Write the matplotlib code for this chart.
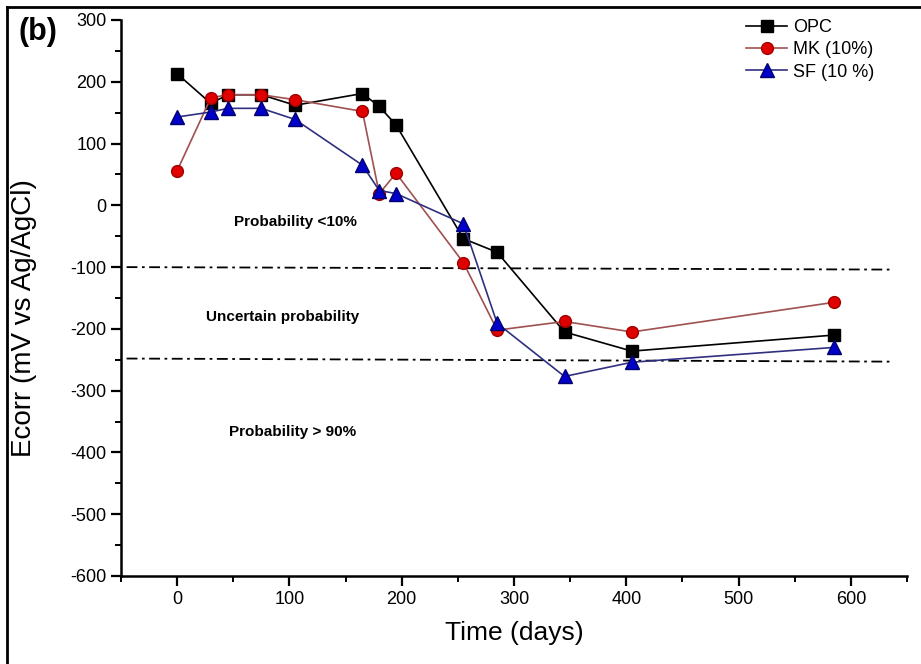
import numpy as np
import matplotlib
matplotlib.use("Agg")
import matplotlib.pyplot as plt
from matplotlib.lines import Line2D
from matplotlib.ticker import MultipleLocator

plt.rcParams["font.family"] = ["Liberation Sans", "DejaVu Sans"]
plt.rcParams["axes.unicode_minus"] = False

# half-cell potential readings (mV vs Ag/AgCl)
days = [0, 30, 45, 75, 105, 165, 180, 195, 255, 285, 345, 405, 585]
opc = [213, 165, 179, 179, 162, 181, 160, 130, -54, -76, -205, -236, -210]
mk = [56, 174, 179, 179, 171, 152, 19, 52, -93, -202, -188, -205, -157]
sf = [143, 151, 157, 157, 139, 65, 24, 19, -30, -191, -277, -254, -230]

# ASTM C876 probability limits, drawn as reference lines
limit_x = [-45, 637]
limit_hi = [-100, -104]
limit_lo = [-248, -253]

zones = ["Probability <10%", "Uncertain probability", "Probability > 90%"]
zone_x = [105, 94, 103]
zone_y = [-27, -180, -367]

fig = plt.figure(figsize=(9.21, 6.64), dpi=100)
ax = fig.add_axes([121 / 921, 88 / 664, 786 / 921, 556 / 664])

ax.plot(days, opc, color="black", lw=1.2, marker="s", ms=8,
        mfc="black", mec="black", label="OPC", zorder=3)
ax.plot(days, mk, color="#a05050", lw=1.2, marker="o", ms=8.5,
        mfc="#e00000", mec="#a00000", mew=1.0, label="MK (10%)", zorder=4)
ax.plot(days, sf, color="#303080", lw=1.2, marker="^", ms=9.5,
        mfc="#0000c8", mec="#00006e", mew=1.0, label="SF (10 %)", zorder=5)

dashdot = (0, (6, 2.5, 1.5, 2.5))
ax.plot(limit_x, limit_hi, color="black", lw=1.3, ls=dashdot, zorder=2)
ax.plot(limit_x, limit_lo, color="black", lw=1.3, ls=dashdot, zorder=2)

for txt, zx, zy in zip(zones, zone_x, zone_y):
    ax.text(zx, zy, txt, ha="center", va="center", fontsize=11,
            fontweight="bold", family=["Liberation Sans Narrow", "Liberation Sans"])

ax.set_xlim(-50, 650)
ax.set_ylim(-600, 300)
ax.xaxis.set_major_locator(MultipleLocator(100))
ax.xaxis.set_minor_locator(MultipleLocator(50))
ax.yaxis.set_major_locator(MultipleLocator(100))
ax.yaxis.set_minor_locator(MultipleLocator(50))
ax.tick_params(which="major", direction="out", length=7, width=1.6, labelsize=13)
ax.tick_params(which="minor", direction="out", length=4, width=1.4)
for side in ("top", "right"):
    ax.spines[side].set_visible(False)
for side in ("left", "bottom"):
    ax.spines[side].set_linewidth(1.8)

ax.set_xlabel("Time (days)", fontsize=19, labelpad=10)
ax.set_ylabel("Ecorr (mV vs Ag/AgCl)", fontsize=20)
ax.yaxis.set_label_coords(-0.107, 0.464)

ax.legend(loc="upper left", bbox_to_anchor=(0.795, 1.002), frameon=False,
          fontsize=13, handlelength=2.3, handletextpad=0.3, labelspacing=0.3,
          borderpad=0, borderaxespad=0)

fig.text(38 / 921, 1 - 32 / 664, "(b)", fontsize=22, fontweight="bold",
         ha="center", va="center")

# outer frame on the left and top edges
fig.add_artist(Line2D([7 / 921, 7 / 921], [0, 1 - 7 / 664], color="black",
                      lw=2, transform=fig.transFigure))
fig.add_artist(Line2D([7 / 921, 1], [1 - 7 / 664, 1 - 7 / 664], color="black",
                      lw=2, transform=fig.transFigure))

fig.savefig("out.png", dpi=100)
